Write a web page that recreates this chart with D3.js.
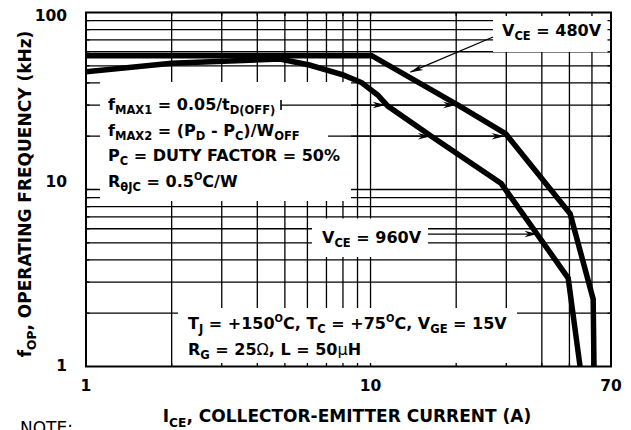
<!DOCTYPE html>
<html>
<head>
<meta charset="utf-8">
<script src="https://cdn.jsdelivr.net/npm/d3@7"></script>
<style>
  html, body { margin: 0; padding: 0; background: #fff; }
  text { font-family: "DejaVu Sans", sans-serif; white-space: pre; fill: #000; }
</style>
</head>
<body>
<svg id="chart" width="631" height="430"></svg>
<script>
// ---------------- data ----------------
const xGrid = [2, 3, 4, 5, 6, 7, 8, 9, 10, 20, 30, 40, 50, 60];
const yGrid = [2, 3, 4, 5, 6, 7, 8, 9, 10, 20, 30, 40, 50, 60, 70, 80, 90];
const xTickLabels = [1, 10, 70];
const yTickLabels = [1, 10, 100];

// V_CE = 480V curve
const ice480 = [1, 10.1, 20.3, 29.9, 50.3, 60.6, 61.0];
const fop480 = [57, 57, 30, 20.6, 7.3, 2.4, 1];
// V_CE = 960V curve
const ice960 = [1, 2, 4.8, 6.1, 8.0, 9.3, 10.6, 11.5, 16.5, 28.8, 49.5, 54.5];
const fop960 = [46.3, 51.6, 54.6, 50.5, 44.4, 40.2, 34.2, 29.6, 19.8, 10.8, 3.16, 1];

// ---------------- layout ----------------
const W = 631, H = 430;
const plot = { left: 86, right: 611, top: 12.5, bottom: 366.5 };
const svg = d3.select('#chart');
svg.append('rect').attr('width', W).attr('height', H).attr('fill', '#fff');

const x = d3.scaleLog().domain([1, 70]).range([plot.left, plot.right]);
const y = d3.scaleLog().domain([1, 100]).range([plot.bottom, plot.top]);

// grid
const grid = svg.append('g').attr('stroke', '#000').attr('stroke-width', 1.3);
grid.selectAll('line.v').data(xGrid).join('line')
  .attr('x1', d => x(d)).attr('x2', d => x(d))
  .attr('y1', plot.top).attr('y2', plot.bottom);
grid.selectAll('line.h').data(yGrid).join('line')
  .attr('y1', d => y(d)).attr('y2', d => y(d))
  .attr('x1', plot.left).attr('x2', plot.right);

// white annotation boxes hiding the grid
const masks = [
  { x0: 100, x1: 351, y0: 82, y1: 201 },
  { x0: 178, x1: 517, y0: 308, y1: plot.bottom },
  { x0: 493, x1: plot.right, y0: plot.top, y1: 52 },
  { x0: 312, x1: 428, y0: 218.5, y1: 257 }
];
svg.append('g').selectAll('rect').data(masks).join('rect')
  .attr('x', d => d.x0).attr('y', d => d.y0)
  .attr('width', d => d.x1 - d.x0).attr('height', d => d.y1 - d.y0)
  .attr('fill', '#fff');

// inner ticks on all sides
const tk = svg.append('g').attr('stroke', '#000').attr('stroke-width', 1.3);
const tl = 3.5;
xGrid.forEach(v => {
  tk.append('line').attr('x1', x(v)).attr('x2', x(v)).attr('y1', plot.bottom).attr('y2', plot.bottom - tl);
  tk.append('line').attr('x1', x(v)).attr('x2', x(v)).attr('y1', plot.top).attr('y2', plot.top + tl);
});
yGrid.forEach(v => {
  tk.append('line').attr('y1', y(v)).attr('y2', y(v)).attr('x1', plot.left).attr('x2', plot.left + tl);
  tk.append('line').attr('y1', y(v)).attr('y2', y(v)).attr('x1', plot.right).attr('x2', plot.right - tl);
});

// frame
svg.append('rect').attr('x', plot.left).attr('y', plot.top)
  .attr('width', plot.right - plot.left).attr('height', plot.bottom - plot.top)
  .attr('fill', 'none').attr('stroke', '#000').attr('stroke-width', 2);

// curves
svg.append('clipPath').attr('id', 'clip').append('rect')
  .attr('x', plot.left).attr('y', plot.top)
  .attr('width', plot.right - plot.left).attr('height', plot.bottom - plot.top);
const line = d3.line().x(d => x(d[0])).y(d => y(d[1])).curve(d3.curveLinear);
const curves = [d3.zip(ice480, fop480), d3.zip(ice960, fop960)];
svg.append('g').attr('clip-path', 'url(#clip)').selectAll('path').data(curves).join('path')
  .attr('d', line).attr('fill', 'none').attr('stroke', '#000')
  .attr('stroke-width', 5.5).attr('stroke-linejoin', 'miter').attr('stroke-miterlimit', 3);

// arrows
const ann = svg.append('g');
function arrowHead(tx, ty, angle) {
  const a = angle * Math.PI / 180, L = 13, w = 3.2, n = 9;
  const c = Math.cos(a), s = Math.sin(a);
  const pt = (u, v) => [tx - u * c - v * -s, ty - u * s - v * c];
  const p = [pt(0, 0), pt(L, w), pt(n, 0), pt(L, -w)];
  ann.append('path').attr('d', 'M' + p.map(q => q.join(',')).join('L') + 'Z').attr('fill', '#000');
}
function seg(x1, y1, x2, y2, sw) {
  ann.append('line').attr('x1', x1).attr('y1', y1).attr('x2', x2).attr('y2', y2)
    .attr('stroke', '#000').attr('stroke-width', sw || 1.3);
}
// fMAX1 arrow along 30 kHz line
seg(281, y(30), x(20.0), y(30));
seg(281, y(30) - 5, 281, y(30) + 5, 1.6);
arrowHead(x(11.3), y(30), 0);
arrowHead(x(20.0), y(30), 0);
// fMAX2 arrow along 20 kHz line
seg(328, y(20), x(29.6), y(20));
arrowHead(x(16.3), y(20), 0);
arrowHead(x(29.6), y(20), 0);
// V_CE = 960V arrow
seg(428, y(5.6), x(38.6), y(5.6));
arrowHead(x(38.6), y(5.6), 0);
// V_CE = 480V arrow
const t480 = [x(13.8), y(46)];
seg(493, 37, t480[0], t480[1]);
arrowHead(t480[0], t480[1], Math.atan2(t480[1] - 37, t480[0] - 493) * 180 / Math.PI);

// rich text helper
function rich(g, tx, ty, parts, size, anchor, transform) {
  const t = g.append('text').attr('x', tx).attr('y', ty).attr('font-size', size)
    .attr('font-weight', 'bold').attr('text-anchor', anchor || 'start');
  if (transform) t.attr('transform', transform);
  let cur = 0;
  parts.forEach(p => {
    let off = 0, fs = size;
    if (p[1] === 'sub') { off = size * 0.27; fs = size * 0.72; }
    if (p[1] === 'sup') { off = -size * 0.42; fs = size * 0.62; }
    const ts = t.append('tspan').attr('dy', off - cur).attr('font-size', fs).text(p[0]);
    if (p[2] === 'normal') ts.attr('font-weight', 'normal');
    cur = off;
  });
  return t;
}

const fs = 16;
rich(ann, 108, 110, [['f'], ['MAX1', 'sub'], [' = 0.05/t'], ['D(OFF)', 'sub']], fs);
rich(ann, 108, 136, [['f'], ['MAX2', 'sub'], [' = (P'], ['D', 'sub'], [' - P'], ['C', 'sub'], [')/W'], ['OFF', 'sub']], fs);
rich(ann, 108, 161, [['P'], ['C', 'sub'], [' = DUTY FACTOR = 50%']], fs);
rich(ann, 108, 187, [['R'], ['\u03B8JC', 'sub'], [' = 0.5'], ['O', 'sup'], ['C/W']], fs);

rich(ann, 188, 329, [['T'], ['J', 'sub'], [' = +150'], ['O', 'sup'], ['C, T'], ['C', 'sub'], [' = +75'], ['O', 'sup'], ['C, V'], ['GE', 'sub'], [' = 15V']], fs);
rich(ann, 188, 355, [['R'], ['G', 'sub'], [' = 25'], ['\u03A9', null, 'normal'], [', L = 50'], ['\u00B5', null, 'normal'], ['H']], fs);

rich(ann, 502, 36, [['V'], ['CE', 'sub'], [' = 480V']], fs);
rich(ann, 322, 243, [['V'], ['CE', 'sub'], [' = 960V']], fs);

// tick labels
const tfs = 15.5;
const yLabelDy = [4.5, -3, 8.5];
svg.append('g').selectAll('text').data(yTickLabels).join('text')
  .attr('x', 67).attr('y', (d, i) => y(d) + yLabelDy[i])
  .attr('text-anchor', 'end').attr('font-size', tfs).attr('font-weight', 'bold').text(d => d);
svg.append('g').selectAll('text').data(xTickLabels).join('text')
  .attr('x', d => x(d)).attr('y', 391)
  .attr('text-anchor', 'middle').attr('font-size', tfs).attr('font-weight', 'bold').text(d => d);

// axis titles
rich(svg, 347, 422, [['I'], ['CE', 'sub'], [', COLLECTOR-EMITTER CURRENT (A)']], 17, 'middle');
rich(svg, 0, 0, [['f'], ['OP', 'sub'], [', OPERATING FREQUENCY (kHz)']], 17, 'middle', 'translate(31,194) rotate(-90)');

// note
svg.append('text').attr('x', 20).attr('y', 434).attr('font-size', 17).text('NOTE:');
</script>
</body>
</html>
